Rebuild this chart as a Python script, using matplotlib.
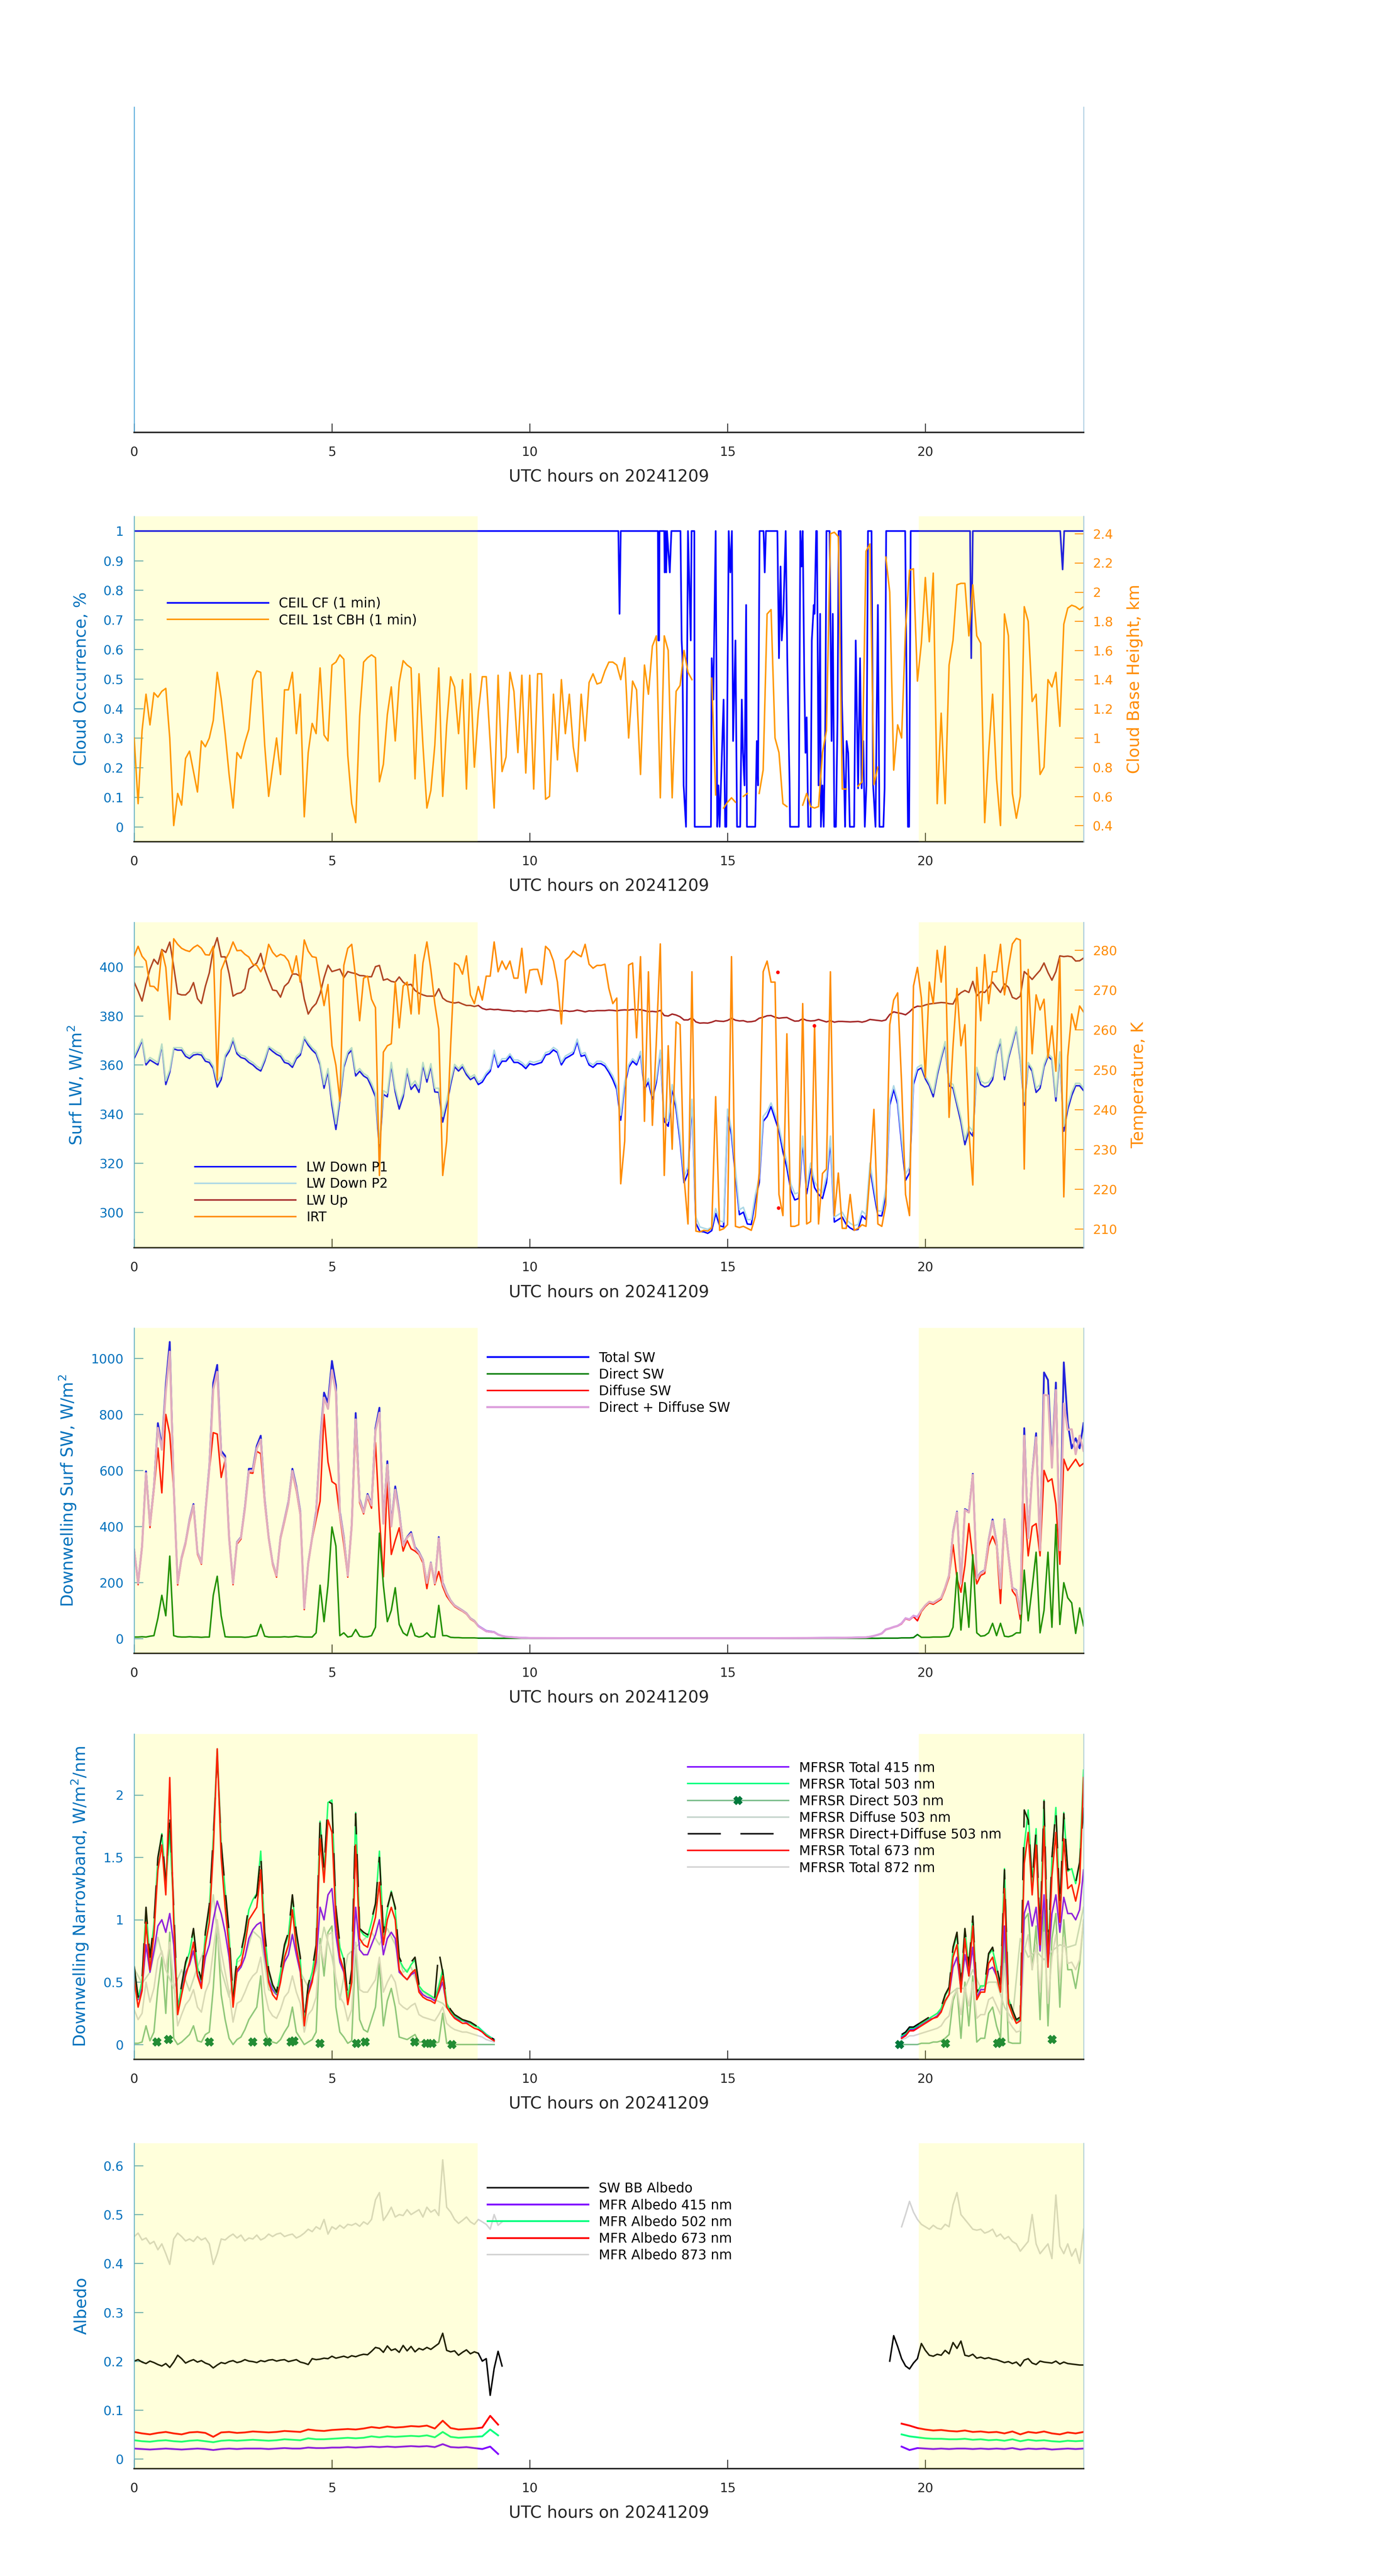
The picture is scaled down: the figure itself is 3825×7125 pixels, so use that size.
import numpy as np
import matplotlib.pyplot as plt
from matplotlib.lines import Line2D
from matplotlib.ticker import FuncFormatter

nan = np.nan

date_str = '20241209'
hour_ticks = [0, 5, 10, 15, 20]
shade_spans = [(0.0, 8.68), (19.83, 24.0)]

# ---------------- ceilometer (panel 2) ----------------
# cloud fraction as (hour, value) vertices
cf_pts = [(0, 1), (12.24, 1), (12.27, 0.72), (12.30, 1), (13.24, 1), (13.25, 0.63), (13.27, 0.63), (13.28, 1),
          (13.40, 1), (13.41, 0.86), (13.43, 1), (13.45, 0.86), (13.47, 1), (13.54, 0.86), (13.58, 1), (13.81, 1),
          (13.84, 0.63), (13.86, 0.57), (13.89, 0.14), (13.95, 0), (14.00, 1), (14.07, 0.63), (14.09, 1), (14.16, 1),
          (14.17, 0), (14.58, 0), (14.60, 0.57), (14.64, 0.43), (14.70, 1), (14.74, 0), (14.77, 0.14), (14.80, 0),
          (14.90, 0.43), (14.94, 0), (14.97, 0), (15.03, 1), (15.07, 0.86), (15.11, 1), (15.14, 0.29), (15.20, 0.63),
          (15.24, 0), (15.32, 0), (15.36, 0.43), (15.39, 0.25), (15.43, 0.14), (15.47, 0.75), (15.49, 0), (15.70, 0),
          (15.74, 0.29), (15.77, 0.14), (15.81, 1), (15.91, 1), (15.94, 0.86), (15.97, 1), (16.26, 1), (16.30, 0.57),
          (16.34, 0.88), (16.37, 0.63), (16.41, 0.72), (16.47, 1), (16.51, 0.57), (16.57, 0.13), (16.58, 0), (16.80, 0),
          (16.84, 1), (16.87, 0.88), (16.90, 1), (16.94, 0.5), (16.97, 0.25), (17.00, 0.37), (17.04, 0), (17.10, 0),
          (17.13, 0.63), (17.18, 0.75), (17.20, 0.72), (17.24, 1), (17.26, 1), (17.30, 0.14), (17.34, 0.72), (17.36, 0),
          (17.40, 0.14), (17.43, 0), (17.47, 0.33), (17.50, 1), (17.58, 1), (17.63, 0.29), (17.66, 0.72), (17.70, 0),
          (17.74, 0), (17.78, 0.37), (17.81, 1), (17.86, 1), (17.89, 0.43), (17.95, 0.14), (17.97, 0), (18.01, 0.29),
          (18.05, 0.25), (18.09, 0), (18.20, 0), (18.24, 0.63), (18.30, 0.13), (18.35, 0.57), (18.39, 0.13), (18.43, 0.29),
          (18.47, 0), (18.51, 0.14), (18.55, 1), (18.64, 1), (18.68, 0.14), (18.74, 0), (18.80, 0.75), (18.84, 0),
          (18.94, 0), (18.97, 0.13), (19.01, 1), (19.49, 1), (19.56, 0), (19.59, 0), (19.63, 1), (21.13, 1),
          (21.16, 0.57), (21.20, 1), (23.41, 1), (23.47, 0.87), (23.51, 1), (24.0, 1)]

# first cloud base height, km, every 0.1 h
cbh_km = [1.0, 0.55, 1.05, 1.30, 1.09, 1.31, 1.28, 1.32, 1.34, 1.0,
          0.40, 0.62, 0.54, 0.86, 0.91, 0.77, 0.63, 0.98, 0.94, 1.0,
          1.12, 1.45, 1.27, 1.03, 0.75, 0.52, 0.90, 0.86, 0.97, 1.06,
          1.40, 1.46, 1.45, 0.95, 0.60, 0.80, 1.0, 0.75, 1.33, 1.33,
          1.45, 1.03, 1.30, 0.46, 0.90, 1.10, 1.03, 1.48, 1.02, 0.98,
          1.50, 1.52, 1.57, 1.54, 0.88, 0.55, 0.42, 1.15, 1.52, 1.55,
          1.57, 1.55, 0.70, 0.82, 1.16, 1.35, 0.98, 1.38, 1.53, 1.50,
          1.48, 0.72, 1.44, 0.95, 0.52, 0.64, 0.95, 1.48, 0.60, 1.09,
          1.42, 1.35, 1.03, 1.40, 0.65, 1.44, 0.80, 1.18, 1.42, 1.42,
          0.97, 0.52, 1.43, 0.77, 0.87, 1.45, 1.32, 0.90, 1.43, 0.76,
          1.43, 0.65, 1.44, 1.44, 0.58, 0.60, 1.30, 0.85, 1.40, 1.03,
          1.30, 0.94, 0.77, 1.30, 0.98, 1.38, 1.44, 1.37, 1.38, 1.46,
          1.52, 1.52, 1.50, 1.40, 1.55, 1.0, 1.39, 1.33, 0.75, 1.50,
          1.30, 1.63, 1.70, 0.59, 1.70, 1.60, 0.59, 1.32, 1.36, 1.60,
          1.45, 1.40, nan, nan, nan, nan, 1.41, 0.61, nan, 0.52,
          0.56, 0.59, 0.56, nan, 0.60, 0.62, nan, nan, 0.62, 0.78,
          1.85, 1.88, 1.0, 0.90, 0.55, 0.53, nan, nan, nan, 0.54,
          0.62, 0.53, 0.52, 0.53, 0.90, 1.05, 2.40, 2.41, 2.38, 0.65,
          0.65, nan, nan, 0.67, 0.70, 2.28, 2.33, 0.68, 0.80, nan,
          2.24, 2.0, 0.78, 1.09, 1.0, 1.75, 2.15, 2.16, 1.39, 1.65,
          2.10, 1.66, 2.13, 0.55, 1.17, 0.55, 1.50, 1.67, 2.05, 2.06,
          2.06, 1.70, 2.05, 1.70, 1.65, 0.42, 0.90, 1.30, 0.72, 0.40,
          1.85, 1.70, 0.62, 0.45, 0.60, 1.90, 1.80, 1.25, 1.30, 0.75,
          0.80, 1.40, 1.35, 1.45, 1.08, 1.78, 1.89, 1.91, 1.90, 1.88,
          1.90]

# ---------------- longwave (panel 3), every 0.1 h ----------------
lw_down_p1 = [362.6, 366, 370, 360, 362, 361, 360, 368, 352, 357,
              366.5, 366, 366, 363.5, 362.6, 364, 364.3, 364, 361.5, 361,
              358.5, 351, 354, 363, 365.5, 370, 364.5, 363, 362.5, 361,
              360, 358.5, 357.5, 361.5, 366.9, 365.5, 364.3, 363.5, 361, 360.5,
              359, 362.5, 364, 370.8, 368, 366, 364.5, 360, 350.5, 357.4,
              343.6, 333.7, 345.5, 359, 364.3, 366, 355.5, 357.4, 355.5, 354.5,
              351, 347, 325.5, 348, 347, 360, 349, 342, 347, 357.4,
              350, 352, 348.8, 360, 353, 359.5, 349, 348.8, 336.7, 343.6,
              352, 359.2, 357.5, 359.2, 356, 354, 355, 352, 353, 355.7,
              357.4, 365, 359, 361.5, 361.5, 363.5, 361, 361, 360, 358.5,
              360.5, 360, 360.5, 361, 364, 364.5, 366.1, 365, 360, 362.6,
              363.5, 364.5, 369.5, 363.5, 364, 360, 359, 360.5, 360.5, 359.5,
              357, 354, 350, 337.5, 351.5, 359, 361.5, 360, 364.5, 350,
              353, 346, 353, 365, 337, 335, 350.5, 342, 329, 312,
              316, 344.5, 295.5, 292.2, 292, 291.4, 292.5, 299.5, 294.5, 294,
              340, 331.5, 315, 299, 300, 295.2, 295, 305, 312, 337,
              339, 343, 338, 333.2, 324.6, 318, 309, 305, 305.6, 329,
              307.5, 317.7, 310, 307.3, 305.6, 312, 329, 296, 297, 298,
              295, 293.6, 292.7, 293, 298.5, 297, 318, 308, 298.7, 298.5,
              307.3, 343.6, 350, 344, 328, 313, 316, 352, 357.8, 358.8,
              354.3, 351.5, 347, 355.7, 362.6, 368.5, 351.5, 350.5, 343.6, 336.7,
              327.5, 333, 331, 358, 352, 351, 351.5, 354, 364.3, 369.5,
              354, 362.6, 368.5, 374.7, 362, 343.6, 360, 357.4, 348.8, 350.5,
              359.2, 363.5, 362, 345.3, 364.3, 333, 341.9, 347.5, 351.5, 351.5,
              349.5]

lw_down_p2 = [363.5, 367, 370.5, 361, 363, 362, 361, 368.5, 353.5, 358,
              367, 367, 367, 364.5, 363.5, 365, 365, 365, 362.5, 362,
              359.5, 353, 355.5, 364, 366.5, 371, 365.5, 364, 363.5, 362,
              361, 359.5, 358.5, 362.5, 367.5, 366.5, 365.3, 364.5, 362, 361.5,
              360, 363.5, 365, 371.5, 369, 367, 365.5, 361, 352, 358.5,
              346, 336, 347.5, 360, 365.3, 367, 357, 358.5, 356.5, 355.5,
              352.5, 348.5, 328, 349.5, 348.5, 361, 350.5, 344, 348.5, 358.5,
              351.5, 353.5, 350.5, 361, 354.5, 360.5, 350.5, 350.5, 339, 345.5,
              353.5, 360.2, 358.5, 360.2, 357, 355, 356, 353, 354, 356.7,
              358.4, 366, 360, 362.5, 362.5, 364.5, 362, 362, 361, 359.5,
              361.5, 361, 361.5, 362, 365, 365.5, 367.1, 366, 361, 363.6,
              364.5, 365.5, 370.5, 364.5, 365, 361, 360, 361.5, 361.5, 360.5,
              358, 355.5, 351.5, 339.5, 353, 360, 362.5, 361, 365.5, 351.5,
              354.5, 347.5, 354.5, 366, 339, 337, 352, 344, 331, 314.5,
              318.5, 346, 298, 294, 293.5, 293, 294, 301.5, 296.5, 296,
              342, 333.5, 317.5, 301, 302, 297, 297, 307, 314, 339,
              341, 344.5, 340, 335, 327, 320.5, 311.5, 307.5, 308, 331,
              310, 320, 312.5, 309.5, 308, 314.5, 331, 298, 299, 300,
              297, 295.5, 294.5, 295, 300.5, 299, 320, 310, 300.5, 300.5,
              309.5, 345.5, 351.5, 345.5, 330, 315.5, 318.5, 353.5, 359, 360,
              355.5, 352.5, 348.5, 357, 363.6, 369.5, 353, 352, 345, 338.5,
              329.5, 335, 333, 359, 353.5, 352.5, 353, 355.5, 365.3, 370.5,
              355.5, 363.6, 369.5, 375.5, 363, 345, 361, 358.5, 350.5, 352,
              360.2, 364.5, 363, 347, 365.3, 335, 343.5, 349, 352.5, 352.5,
              350.5]

lw_up = [393.7, 390, 386, 393, 399, 403, 401, 407, 405.8, 410,
         400, 389, 388.5, 388.5, 390, 393.5, 387, 385, 392, 397.5,
         407, 411.8, 404, 404, 397.1, 388, 389, 389.4, 391, 399,
         400.2, 401.5, 405.4, 399, 394.5, 390.5, 390.2, 387.6, 392, 393.5,
         397, 397, 396, 386.8, 380.7, 383.3, 385, 389, 395.5, 400.6,
         398, 398.5, 399, 395.5, 398, 397.5, 397.2, 396.4, 396.3, 395.9,
         395.9, 400, 400.5, 394.5, 395, 394, 393.7, 395.8, 393.7, 392.5,
         392.8, 390.3, 389.2, 388.5, 388, 388, 388, 391, 387.2, 386,
         385.5, 385.2, 385.5, 384.8, 384.2, 384.2, 383.8, 384.2, 383, 382.5,
         382.7, 382.5, 382.6, 382.3, 382.2, 382.1, 381.8, 382.0, 381.9, 381.7,
         382.0, 381.9, 381.8, 382.1, 382.2, 382.5, 382.3, 382.0, 381.9, 382.1,
         381.8, 381.9, 382.3, 382.0, 381.6, 382.0, 381.9, 382.1, 382.1, 382.1,
         382.3, 382.2, 382.0, 382.3, 382.4, 382.3, 382.6, 382.4, 382.5, 382.1,
         381.7, 381.8, 381.6, 382.2, 380.1, 379.9, 380.7, 380.3, 379.6, 378.3,
         378.3, 379.2, 377.5, 377.0, 377.1, 377.0, 377.4, 378.0, 377.8, 377.7,
         378.1, 379.0, 378.2, 377.9, 378.0, 377.5, 377.6, 377.9, 379.0, 379.4,
         380.0, 380.1, 379.4, 379.0, 379.2, 379.3, 378.5, 377.8, 377.9, 378.8,
         378.1, 377.9, 378.0, 378.5, 378.0, 377.5, 378.0, 377.4, 377.7, 377.7,
         377.6, 377.5, 377.6, 377.7, 377.4, 377.8, 378.5, 378.3, 378.1, 377.9,
         378.3, 380.5, 381.6, 381.2, 380.9, 380.4, 381.6, 383.2, 383.9, 383.8,
         384.4, 384.8, 385.0, 385.2, 385.4, 385.3, 384.9, 384.8, 388.0, 389.4,
         390.3, 389.5, 394.0, 388.1, 389.8, 389.5, 391.5, 393.7, 391.5, 389.5,
         393, 391.6, 387.5, 386.8, 388, 398.0, 396.5, 394.8, 396.7, 398.5,
         401.5, 397.6, 394.5, 398, 404.4, 404.1, 404.3, 404.0, 402.3, 402.4,
         403.5]

irt_k = [278.6, 281, 278.5, 277.3, 271, 270.9, 269.8, 280, 275.7, 262.6,
         282.9, 281.5, 280.5, 280, 279.7, 280.7, 281.3, 280.5, 278.9, 278.8,
         281, 247.4, 275, 277.5, 279.4, 282.1, 279.9, 280, 279, 278.3,
         276.5, 276.2, 274.6, 276.5, 281.5, 279.5, 278.4, 279, 278.6, 277.3,
         274.1, 278.6, 272, 282.6, 279.8, 278.4, 278.2, 272, 266.1, 271.4,
         256, 251.1, 242.1, 276.2, 280.5, 281.5, 273, 262.3, 273, 273.5,
         267.7, 265.6, 223.4, 254.4, 256, 256.5, 272, 260.5, 271, 272,
         264, 278.9, 264, 276.8, 282.1, 275.2, 266.6, 260.2, 223.4, 232,
         256, 276.8, 276.2, 274, 278.6, 268.8, 266.6, 270.9, 267.5, 273.5,
         273.5, 282.1, 274.6, 277.3, 275.2, 277.3, 273, 273, 280.5, 269.3,
         275, 275.2, 275.2, 271.4, 281, 280, 277.3, 272, 261.5, 277.5,
         278.4, 279.8, 279, 278.4, 281.5, 276.5, 275.5, 276.2, 276.2, 276.5,
         270.4, 266.6, 268, 221.3, 232, 276.3, 276.8, 258, 278.4, 237,
         274.6, 236, 257, 281.6, 223.4, 256, 230, 262, 261.3, 222.9,
         211.2, 274.6, 209.4, 209.2, 209.6, 209.4, 210.2, 243.2, 209.6, 210,
         211, 278.4, 210.6, 210.3, 210.6, 210.1, 209.6, 213, 224, 274.6,
         277.3, 272, 272, 218.6, 213.3, 259, 210.6, 210.6, 211, 266.6,
         211.2, 211.8, 261.3, 211.2, 223.9, 225, 274.6, 213.3, 224, 210.1,
         210.1, 218.6, 209.6, 210.1, 211, 210.6, 223.9, 240, 211.2, 210.6,
         216, 261.3, 267.5, 269.3, 246.5, 218.6, 213.3, 271, 275.7, 268,
         248, 272, 266.6, 280, 272, 281, 238, 256, 270.4, 256,
         261.3, 234.6, 221, 275.7, 262.3, 278.9, 266.6, 274.6, 274.6, 281.5,
         268.8, 275.7, 281.6, 283, 282.6, 225, 275.2, 254, 268.8, 265,
         267.7, 253, 261, 249.6, 278, 218, 253.3, 264, 260.2, 266,
         264.5]

irt_flag_h = [16.27, 16.29, 17.19]
irt_flag_k = [274.5, 215.2, 261.0]

# ---------------- shortwave (panel 4) ----------------
# 0-9.9 h every 0.1 h, night hourly 10-18 h, 18.5-24 h every 0.1 h
sw_night_h = [10, 11, 12, 13, 14, 15, 16, 17, 18]

sw_total_am = [317, 199, 330, 597, 407, 543, 769, 688, 905, 1059,
               543, 199, 290, 344, 425, 480, 308, 271, 453, 615,
               914, 977, 670, 652, 362, 199, 344, 362, 470, 606,
               606, 688, 724, 498, 362, 271, 226, 362, 425, 489,
               606, 543, 453, 109, 271, 362, 453, 697, 878, 842,
               991, 905, 453, 362, 226, 407, 805, 498, 453, 516,
               480, 751, 824, 416, 633, 407, 543, 453, 335, 362,
               380, 326, 308, 280, 199, 271, 199, 362, 199, 163,
               136, 118, 109, 100, 90, 72, 63, 45, 36, 27,
               25, 23, 14, 9, 6, 5, 4, 3, 2, 2]
sw_total_night = [1.5, 1, 1, 1, 1, 1, 1, 1.5, 2.5]
sw_total_pm = [4, 6, 9, 13, 18, 32, 36, 41, 45, 54,
               72, 68, 81, 77, 100, 118, 131, 127, 136, 145,
               181, 226, 380, 453, 199, 462, 453, 588, 217, 235,
               244, 353, 425, 344, 181, 425, 299, 181, 172, 90,
               751, 362, 588, 733, 317, 950, 923, 633, 914, 317,
               986, 769, 679, 715, 679, 769]

sw_direct_am = [5, 5, 6, 5, 8, 10, 72, 154, 81, 294,
                10, 6, 5, 5, 6, 5, 5, 4, 5, 5,
                154, 222, 81, 6, 5, 5, 5, 5, 4, 5,
                8, 10, 50, 8, 5, 5, 5, 5, 6, 5,
                6, 8, 6, 5, 5, 5, 20, 190, 60, 190,
                398, 330, 10, 20, 5, 8, 32, 8, 5, 6,
                10, 40, 376, 190, 60, 100, 181, 50, 20, 10,
                54, 10, 5, 8, 20, 5, 5, 118, 10, 10,
                4, 3, 3, 2, 2, 2, 2, 1, 1, 1,
                1, 0.5, 0.5, 0.5, 0.5, 0.5, 0.5, 0.5, 0.5, 0.5]
sw_direct_night = [0.5, 0.5, 0.5, 0.5, 0.5, 0.5, 0.5, 0.5, 0.5]
sw_direct_pm = [0.5, 0.5, 0.5, 0.5, 1, 1, 1, 1, 1, 2,
                2, 2, 3, 14, 4, 4, 4, 5, 5, 5,
                6, 8, 40, 235, 30, 199, 40, 299, 20, 8,
                10, 20, 54, 10, 54, 8, 6, 10, 20, 20,
                244, 63, 181, 308, 20, 100, 308, 40, 407, 50,
                199, 145, 127, 18, 109, 45]

sw_diffuse_am = [310, 192, 322, 585, 396, 528, 680, 520, 800, 730,
                 528, 191, 283, 337, 415, 470, 301, 265, 444, 600,
                 735, 730, 575, 637, 354, 192, 337, 355, 460, 592,
                 590, 668, 660, 482, 355, 264, 219, 355, 416, 479,
                 592, 527, 440, 103, 264, 355, 425, 490, 800, 630,
                 560, 550, 435, 335, 219, 395, 750, 485, 445, 505,
                 465, 700, 430, 220, 560, 300, 350, 395, 312, 350,
                 320, 312, 300, 270, 178, 264, 192, 239, 185, 151,
                 131, 114, 105, 97, 87, 69, 60, 43, 34, 25,
                 23, 22, 13, 8.5, 5.5, 4.5, 3.5, 2.5, 1.5, 1.5]
sw_diffuse_night = [1, 0.5, 0.5, 0.5, 0.5, 0.5, 0.5, 1, 2]
sw_diffuse_pm = [3.5, 5.5, 8.5, 12.5, 17, 31, 35, 40, 44, 52,
                 70, 66, 78, 63, 96, 114, 127, 122, 131, 140,
                 175, 218, 335, 215, 165, 260, 410, 285, 195, 225,
                 232, 330, 365, 330, 125, 415, 290, 170, 150, 68,
                 480, 295, 400, 410, 295, 600, 560, 570, 480, 265,
                 640, 600, 620, 640, 615, 625]

sw_dirdif_am = [315, 197, 328, 590, 404, 538, 752, 674, 881, 1024,
                538, 197, 288, 342, 421, 475, 306, 269, 449, 605,
                889, 952, 656, 643, 359, 197, 342, 360, 464, 597,
                598, 678, 710, 490, 360, 269, 224, 360, 422, 484,
                598, 535, 446, 108, 269, 360, 445, 680, 860, 820,
                958, 880, 445, 355, 224, 403, 782, 493, 450, 511,
                475, 740, 806, 410, 620, 400, 531, 445, 332, 360,
                374, 322, 305, 278, 198, 269, 197, 357, 195, 161,
                135, 117, 108, 99, 89, 71, 62, 44, 35, 26,
                24, 22.5, 13.5, 9, 6, 5, 4, 3, 2, 2]
sw_dirdif_night = [1.5, 1, 1, 1, 1, 1, 1, 1.5, 2.5]
sw_dirdif_pm = [4, 6, 9, 13, 18, 32, 36, 41, 45, 54,
                72, 68, 81, 77, 100, 118, 131, 127, 136, 145,
                181, 226, 375, 450, 195, 459, 450, 584, 215, 233,
                242, 350, 419, 340, 179, 423, 296, 180, 170, 88,
                724, 358, 581, 718, 315, 870, 868, 610, 887, 315,
                839, 745, 747, 658, 724, 670]

# ---------------- MFRSR narrowband (panel 5) ----------------
# morning from 0 h, afternoon from 19.4 h, every 0.1 h
mfr_pm_start = 19.4
mfr415_am = [0.55, 0.36, 0.45, 0.80, 0.58, 0.75, 0.95, 1.00, 0.90, 1.05,
             0.80, 0.30, 0.45, 0.58, 0.64, 0.75, 0.56, 0.48, 0.70, 0.80,
             1.00, 1.15, 1.05, 0.90, 0.70, 0.35, 0.58, 0.62, 0.70, 0.85,
             0.92, 0.96, 0.98, 0.72, 0.52, 0.44, 0.40, 0.52, 0.66, 0.72,
             0.88, 0.72, 0.58, 0.20, 0.44, 0.52, 0.66, 1.10, 1.00, 1.20,
             1.25, 0.88, 0.66, 0.58, 0.36, 0.52, 1.10, 0.76, 0.72, 0.72,
             0.80, 0.88, 1.00, 0.72, 0.85, 0.90, 0.85, 0.58, 0.55, 0.52,
             0.56, 0.58, 0.44, 0.40, 0.38, 0.37, 0.35, 0.42, 0.50, 0.31,
             0.26, 0.22, 0.20, 0.19, 0.18, 0.17, 0.15, 0.14, 0.11, 0.08,
             0.06, 0.04]
mfr415_pm = [0.06, 0.08, 0.12, 0.12, 0.14, 0.16, 0.18, 0.20, 0.21, 0.23,
             0.27, 0.35, 0.40, 0.62, 0.70, 0.44, 0.72, 0.55, 0.78, 0.38,
             0.44, 0.44, 0.60, 0.62, 0.55, 0.44, 0.95, 0.35, 0.26, 0.19,
             0.20, 1.05, 1.15, 0.95, 1.10, 0.75, 1.20, 0.62, 1.05, 1.20,
             0.90, 1.18, 1.05, 1.05, 1.00, 1.08, 1.40]

mfr503_am = [0.62, 0.37, 0.51, 1.08, 0.68, 0.96, 1.49, 1.69, 1.29, 1.71,
             1.08, 0.27, 0.47, 0.64, 0.74, 0.92, 0.62, 0.51, 0.88, 1.08,
             1.65, 2.37, 1.61, 1.23, 0.88, 0.35, 0.68, 0.72, 0.88, 1.08,
             1.16, 1.21, 1.55, 0.88, 0.58, 0.47, 0.41, 0.58, 0.78, 0.88,
             1.19, 0.88, 0.68, 0.17, 0.47, 0.58, 0.78, 1.79, 1.39, 1.94,
             1.96, 1.08, 0.78, 0.68, 0.37, 0.58, 1.86, 0.92, 0.88, 0.86,
             0.98, 1.12, 1.55, 0.88, 1.08, 1.23, 1.08, 0.68, 0.62, 0.58,
             0.64, 0.68, 0.47, 0.43, 0.41, 0.39, 0.37, 0.47, 0.60, 0.33,
             0.27, 0.23, 0.21, 0.19, 0.19, 0.17, 0.15, 0.14, 0.11, 0.08,
             0.06, 0.04]
mfr503_pm = [0.07, 0.09, 0.13, 0.13, 0.15, 0.17, 0.19, 0.21, 0.23, 0.25,
             0.29, 0.39, 0.45, 0.76, 0.88, 0.47, 0.92, 0.62, 1.02, 0.41,
             0.47, 0.47, 0.72, 0.76, 0.62, 0.47, 1.41, 0.37, 0.27, 0.19,
             0.21, 1.59, 1.88, 1.29, 1.73, 0.88, 1.96, 0.68, 1.49, 1.90,
             1.08, 1.86, 1.39, 1.41, 1.29, 1.45, 2.20]

mfr503_dir_am = [0.01, 0.01, 0.02, 0.15, 0.03, 0.10, 0.45, 0.70, 0.25, 0.90,
                 0.05, 0.0, 0.02, 0.05, 0.08, 0.15, 0.03, 0.02, 0.08, 0.10,
                 0.45, 0.95, 0.40, 0.20, 0.05, 0.0, 0.04, 0.06, 0.12, 0.20,
                 0.25, 0.30, 0.55, 0.10, 0.03, 0.02, 0.01, 0.04, 0.10, 0.15,
                 0.30, 0.10, 0.05, 0.0, 0.02, 0.04, 0.10, 0.85, 0.55, 0.90,
                 0.95, 0.30, 0.10, 0.06, 0.01, 0.03, 0.80, 0.20, 0.12, 0.10,
                 0.20, 0.30, 0.65, 0.15, 0.35, 0.45, 0.30, 0.06, 0.05, 0.04,
                 0.06, 0.08, 0.02, 0.02, 0.01, 0.01, 0.01, 0.02, 0.25, 0.01,
                 0.0, 0.0, 0.0, 0.0, 0.0, 0.0, 0.0, 0.0, 0.0, 0.0,
                 0.0, 0.0]
mfr503_dir_pm = [0.0, 0.0, 0.0, 0.0, 0.0, 0.01, 0.01, 0.01, 0.02, 0.02,
                 0.03, 0.05, 0.08, 0.35, 0.45, 0.05, 0.50, 0.15, 0.55, 0.02,
                 0.05, 0.05, 0.25, 0.30, 0.15, 0.05, 0.85, 0.02, 0.01, 0.01,
                 0.01, 1.00, 1.05, 0.60, 0.95, 0.20, 1.10, 0.15, 0.85, 1.05,
                 0.30, 1.00, 0.60, 0.60, 0.45, 0.65, 1.00]
mfr503_dir_mark_h = [0.58, 0.87, 1.9, 3.0, 3.37, 3.97, 4.04, 4.7, 5.62, 5.84,
                     7.09, 7.38, 7.53, 8.03, 19.35, 20.51, 21.83, 21.92, 23.21]
mfr503_dir_mark_v = [0.02, 0.04, 0.02, 0.02, 0.02, 0.02, 0.03, 0.01, 0.01, 0.02,
                     0.02, 0.01, 0.01, 0.0, 0.0, 0.01, 0.01, 0.02, 0.04]

# diffuse 503 every 0.2 h
mfr503_dif_am = [0.61, 0.49, 0.58, 0.86, 0.60, 0.45, 0.60, 0.43, 0.62, 0.78,
                 1.20, 0.60, 0.38, 0.66, 0.70, 0.91, 0.85, 0.44, 0.40, 0.68,
                 0.89, 0.58, 0.46, 0.60, 0.94, 0.70, 0.36, 0.72, 0.78, 0.84,
                 0.90, 0.80, 0.93, 0.80, 0.58, 0.62, 0.45, 0.40, 0.36, 0.33,
                 0.26, 0.21, 0.19, 0.15, 0.11, 0.06]
mfr503_dif_pm = [0.07, 0.13, 0.15, 0.19, 0.23, 0.27, 0.40, 0.45, 0.45, 0.60,
                 0.45, 0.50, 0.50, 0.30, 0.20, 0.85, 0.70, 0.75, 0.68, 0.75,
                 0.80, 0.78, 0.80, 1.10]

mfr503_dd_am = [0.63, 0.38, 0.52, 1.10, 0.70, 0.98, 1.50, 1.68, 1.30, 1.87,
                1.10, 0.28, 0.48, 0.66, 0.76, 0.93, 0.63, 0.52, 0.90, 1.12,
                1.66, 2.30, 1.62, 1.25, 0.90, 0.36, 0.70, 0.74, 0.90, 1.12,
                1.14, 1.20, 1.53, 0.90, 0.60, 0.48, 0.42, 0.60, 0.80, 0.90,
                1.20, 0.90, 0.70, 0.18, 0.48, 0.60, 0.80, 1.81, 1.40, 1.95,
                1.93, 1.10, 0.80, 0.70, 0.38, 0.60, 1.85, 0.93, 0.90, 0.88,
                1.00, 1.13, 1.50, 0.90, 1.10, 1.22, 1.10, 0.70, 0.63, 0.60,
                0.66, 0.70, 0.48, 0.44, 0.42, 0.40, 0.38, 0.75, 0.58, 0.34,
                0.28, 0.24, 0.22, 0.20, 0.19, 0.18, 0.16, 0.14, 0.11, 0.08,
                0.06, 0.04]
mfr503_dd_pm = [0.08, 0.10, 0.14, 0.14, 0.16, 0.18, 0.20, 0.22, 0.24, 0.26,
                0.30, 0.40, 0.46, 0.78, 0.90, 0.48, 0.93, 0.63, 1.03, 0.42,
                0.48, 0.48, 0.73, 0.78, 0.63, 0.48, 1.40, 0.38, 0.28, 0.20,
                0.22, 1.88, 1.80, 1.30, 1.72, 0.90, 1.95, 0.70, 1.50, 1.88,
                1.10, 1.85, 1.40, 1.42, 1.30, 1.46, 1.90]

mfr673_am = [0.52, 0.30, 0.43, 0.98, 0.60, 0.88, 1.40, 1.60, 1.20, 2.14,
             0.98, 0.24, 0.40, 0.55, 0.66, 0.82, 0.55, 0.45, 0.80, 0.98,
             1.55, 2.37, 1.50, 1.10, 0.78, 0.30, 0.60, 0.64, 0.80, 1.00,
             1.05, 1.10, 1.40, 0.78, 0.50, 0.40, 0.36, 0.50, 0.70, 0.80,
             1.08, 0.78, 0.60, 0.15, 0.40, 0.50, 0.70, 1.65, 1.30, 1.80,
             1.70, 1.00, 0.70, 0.60, 0.32, 0.50, 1.60, 0.85, 0.80, 0.78,
             0.90, 1.02, 1.30, 0.80, 1.00, 1.10, 1.00, 0.60, 0.55, 0.52,
             0.57, 0.60, 0.42, 0.38, 0.36, 0.35, 0.33, 0.43, 0.55, 0.30,
             0.25, 0.21, 0.19, 0.17, 0.17, 0.15, 0.13, 0.12, 0.10, 0.07,
             0.05, 0.03]
mfr673_pm = [0.05, 0.07, 0.11, 0.11, 0.13, 0.15, 0.17, 0.19, 0.21, 0.22,
             0.26, 0.35, 0.40, 0.70, 0.80, 0.42, 0.85, 0.55, 0.95, 0.36,
             0.42, 0.42, 0.65, 0.70, 0.55, 0.42, 1.25, 0.33, 0.24, 0.17,
             0.19, 1.45, 1.70, 1.20, 1.60, 0.80, 1.75, 0.62, 1.35, 1.70,
             0.98, 1.65, 1.25, 1.28, 1.15, 1.30, 2.14]

mfr872_am = [0.28, 0.20, 0.25, 0.50, 0.34, 0.45, 0.68, 0.75, 0.60, 0.82,
             0.50, 0.15, 0.24, 0.32, 0.36, 0.44, 0.30, 0.26, 0.42, 0.50,
             0.75, 1.00, 0.75, 0.58, 0.42, 0.18, 0.33, 0.35, 0.42, 0.50,
             0.55, 0.58, 0.70, 0.42, 0.28, 0.23, 0.21, 0.28, 0.38, 0.42,
             0.55, 0.42, 0.33, 0.10, 0.24, 0.28, 0.38, 0.80, 0.65, 0.88,
             0.90, 0.50, 0.38, 0.33, 0.19, 0.28, 0.82, 0.44, 0.42, 0.42,
             0.47, 0.52, 0.70, 0.42, 0.50, 0.56, 0.50, 0.33, 0.30, 0.28,
             0.31, 0.33, 0.24, 0.22, 0.21, 0.20, 0.19, 0.24, 0.30, 0.17,
             0.14, 0.12, 0.11, 0.10, 0.10, 0.09, 0.08, 0.07, 0.06, 0.04,
             0.03, 0.02]
mfr872_pm = [0.04, 0.05, 0.07, 0.07, 0.08, 0.09, 0.10, 0.11, 0.12, 0.13,
             0.15, 0.20, 0.23, 0.38, 0.44, 0.24, 0.46, 0.31, 0.50, 0.21,
             0.24, 0.24, 0.36, 0.38, 0.31, 0.24, 0.65, 0.19, 0.14, 0.10,
             0.11, 0.75, 0.88, 0.60, 0.80, 0.42, 0.90, 0.33, 0.70, 0.88,
             0.52, 0.86, 0.65, 0.66, 0.60, 0.68, 1.00]

# ---------------- albedo (panel 6) ----------------
alb_bb_pm_start = 19.1
alb_bb_am = [0.200, 0.203, 0.198, 0.195, 0.200, 0.197, 0.193, 0.190, 0.195, 0.187,
             0.198, 0.212, 0.205, 0.196, 0.200, 0.203, 0.198, 0.201, 0.196, 0.193,
             0.186, 0.192, 0.197, 0.195, 0.199, 0.201, 0.197, 0.199, 0.203, 0.200,
             0.199, 0.197, 0.201, 0.199, 0.202, 0.203, 0.200, 0.202, 0.203, 0.199,
             0.201, 0.203, 0.198, 0.196, 0.193, 0.205, 0.203, 0.204, 0.206, 0.205,
             0.210, 0.206, 0.208, 0.210, 0.207, 0.211, 0.209, 0.212, 0.214, 0.213,
             0.220, 0.228, 0.226, 0.218, 0.231, 0.222, 0.225, 0.218, 0.232, 0.221,
             0.230, 0.219, 0.226, 0.223, 0.228, 0.224, 0.230, 0.236, 0.257, 0.222,
             0.219, 0.221, 0.212, 0.218, 0.223, 0.215, 0.219, 0.216, 0.200, 0.205,
             0.130, 0.185, 0.220, 0.190]
alb_bb_pm = [0.200, 0.252, 0.230, 0.205, 0.190, 0.184, 0.196, 0.205, 0.236, 0.222,
             0.212, 0.210, 0.214, 0.212, 0.222, 0.215, 0.238, 0.226, 0.241, 0.212,
             0.210, 0.214, 0.206, 0.208, 0.205, 0.207, 0.204, 0.203, 0.200, 0.197,
             0.199, 0.195, 0.198, 0.190, 0.202, 0.205, 0.196, 0.193, 0.200, 0.198,
             0.197, 0.196, 0.200, 0.194, 0.198, 0.195, 0.194, 0.193, 0.192, 0.192]

alb_mfr_pm_start = 19.4
# every 0.1 h
alb873_am = [0.455, 0.462, 0.448, 0.452, 0.440, 0.445, 0.428, 0.440, 0.420, 0.398,
             0.450, 0.462, 0.455, 0.446, 0.450, 0.445, 0.455, 0.448, 0.452, 0.440,
             0.398, 0.420, 0.450, 0.448, 0.455, 0.460, 0.452, 0.458, 0.446, 0.452,
             0.450, 0.458, 0.448, 0.452, 0.460, 0.455, 0.460, 0.462, 0.455, 0.458,
             0.460, 0.452, 0.456, 0.462, 0.470, 0.465, 0.475, 0.470, 0.490, 0.460,
             0.475, 0.470, 0.478, 0.472, 0.480, 0.478, 0.482, 0.476, 0.485, 0.480,
             0.490, 0.530, 0.545, 0.488, 0.500, 0.515, 0.495, 0.500, 0.498, 0.510,
             0.500, 0.505, 0.510, 0.495, 0.515, 0.505, 0.510, 0.498, 0.612, 0.515,
             0.505, 0.490, 0.482, 0.488, 0.495, 0.485, 0.480, 0.490, 0.485, 0.480,
             0.470, 0.500, 0.478, 0.485]
alb873_pm = [0.475, 0.500, 0.527, 0.505, 0.490, 0.480, 0.475, 0.470, 0.478, 0.472,
             0.470, 0.480, 0.475, 0.520, 0.545, 0.500, 0.490, 0.480, 0.470, 0.468,
             0.470, 0.462, 0.465, 0.470, 0.455, 0.460, 0.450, 0.455, 0.445, 0.440,
             0.425, 0.435, 0.445, 0.500, 0.440, 0.420, 0.430, 0.440, 0.410, 0.540,
             0.435, 0.420, 0.440, 0.415, 0.430, 0.400, 0.470]
# every 0.2 h
alb673_am = [0.055, 0.052, 0.050, 0.053, 0.055, 0.052, 0.050, 0.054, 0.055, 0.053,
             0.045, 0.054, 0.055, 0.053, 0.054, 0.056, 0.055, 0.054, 0.055, 0.057,
             0.056, 0.055, 0.060, 0.058, 0.057, 0.059, 0.060, 0.061, 0.060, 0.062,
             0.065, 0.063, 0.066, 0.064, 0.065, 0.067, 0.066, 0.068, 0.062, 0.078,
             0.063, 0.060, 0.061, 0.062, 0.064, 0.088, 0.070]
alb673_pm = [0.072, 0.068, 0.063, 0.060, 0.058, 0.059, 0.057, 0.056, 0.058, 0.055,
             0.056, 0.054, 0.055, 0.052, 0.056, 0.050, 0.055, 0.053, 0.056, 0.052,
             0.050, 0.054, 0.052, 0.055]
alb502_am = [0.038, 0.036, 0.035, 0.037, 0.038, 0.036, 0.035, 0.037, 0.038, 0.036,
             0.034, 0.037, 0.038, 0.037, 0.038, 0.039, 0.038, 0.037, 0.038, 0.040,
             0.039, 0.038, 0.042, 0.040, 0.040, 0.041, 0.042, 0.043, 0.042, 0.043,
             0.046, 0.044, 0.046, 0.045, 0.046, 0.047, 0.046, 0.048, 0.044, 0.055,
             0.045, 0.043, 0.044, 0.045, 0.046, 0.060, 0.048]
alb502_pm = [0.050, 0.046, 0.044, 0.042, 0.041, 0.041, 0.040, 0.040, 0.041, 0.039,
             0.040, 0.038, 0.039, 0.037, 0.040, 0.036, 0.039, 0.037, 0.038, 0.036,
             0.035, 0.037, 0.036, 0.037]
alb415_am = [0.021, 0.020, 0.019, 0.020, 0.021, 0.020, 0.019, 0.020, 0.021, 0.020,
             0.018, 0.020, 0.021, 0.020, 0.021, 0.021, 0.021, 0.020, 0.021, 0.022,
             0.021, 0.021, 0.023, 0.022, 0.022, 0.023, 0.023, 0.024, 0.023, 0.024,
             0.025, 0.024, 0.025, 0.024, 0.025, 0.026, 0.025, 0.026, 0.024, 0.030,
             0.024, 0.023, 0.024, 0.022, 0.020, 0.025, 0.010]
alb415_pm = [0.025, 0.018, 0.022, 0.021, 0.020, 0.021, 0.020, 0.021, 0.021, 0.020,
             0.021, 0.020, 0.021, 0.020, 0.022, 0.019, 0.021, 0.020, 0.021, 0.019,
             0.020, 0.021, 0.020, 0.021]


# ---------------- helpers ----------------
def on_grid(vals, t0=0.0, dt=0.1):
    v = np.asarray(vals, dtype=float)
    return t0 + dt * np.arange(v.size), v


def split_day(am, pm, pm_start, dt=0.1):
    t1, v1 = on_grid(am, 0.0, dt)
    t2, v2 = on_grid(pm, pm_start, dt)
    return np.r_[t1, nan, t2], np.r_[v1, nan, v2]


def sw_series(am, night, pm):
    t1, v1 = on_grid(am)
    t3, v3 = on_grid(pm, 18.5)
    return np.r_[t1, sw_night_h, t3], np.r_[v1, night, v3]


BLUE_LAB = '#0072BD'
ORANGE_LAB = '#FF8C00'
LW = 1.0
fmt = FuncFormatter(lambda v, _: f'{v:g}')


def setup(ax, ylab=None, shade=True):
    ax.set_xlim(0, 24)
    ax.set_xticks(hour_ticks)
    ax.spines['top'].set_visible(False)
    ax.spines['bottom'].set_color('#262626')
    ax.spines['bottom'].set_linewidth(1.0)
    ax.spines['left'].set_color('#4DA6D9')
    ax.spines['left'].set_linewidth(0.6)
    ax.spines['right'].set_color('#A8CBE0')
    ax.spines['right'].set_linewidth(0.6)
    ax.tick_params(axis='x', direction='in', length=6, width=0.6, color='#262626',
                   labelcolor='#262626', labelsize=8.5, pad=9)
    ax.tick_params(axis='y', direction='in', length=6, width=0.6, color='#4A9CC4',
                   labelcolor=BLUE_LAB, labelsize=8.5, pad=7)
    ax.yaxis.set_major_formatter(fmt)
    ax.set_xlabel(f'UTC hours on {date_str}', fontsize=11, color='#262626', labelpad=7)
    if ylab:
        ax.set_ylabel(ylab, fontsize=11, color=BLUE_LAB, labelpad=9)
    if shade:
        for a, b in shade_spans:
            ax.axvspan(a, b, color='yellow', alpha=0.14, lw=0, zorder=3)


def twin(ax, ylab):
    ax2 = ax.twinx()
    for s in ('top', 'left', 'bottom'):
        ax2.spines[s].set_visible(False)
    ax2.spines['right'].set_color('#A8CBE0')
    ax2.spines['right'].set_linewidth(0.6)
    ax2.tick_params(axis='y', direction='in', length=6, width=0.6, color=ORANGE_LAB,
                    labelcolor=ORANGE_LAB, labelsize=8.5, pad=6)
    ax2.yaxis.set_major_formatter(fmt)
    ax2.set_ylabel(ylab, fontsize=11, color=ORANGE_LAB, labelpad=9)
    return ax2


def legend(ax, handles, x, y):
    ax.legend(handles=handles, loc='center left', bbox_to_anchor=(x, y), frameon=False,
              fontsize=8.8, handlelength=7.6, handletextpad=0.8, labelspacing=0.25,
              borderpad=0, borderaxespad=0)


fig = plt.figure(figsize=(12.75, 23.75))
L, W, H = 0.0970, 0.6865, 0.1263
bottoms = [0.8321, 0.6733, 0.5156, 0.3582, 0.2006, 0.0417]

# ---- panel 1 (empty) ----
ax = fig.add_axes([L, bottoms[0], W, H])
setup(ax, shade=False)
ax.set_ylim(0, 1)
ax.set_yticks([])

# ---- panel 2: ceilometer ----
ax = fig.add_axes([L, bottoms[1], W, H])
setup(ax, 'Cloud Occurrence, %')
cf_t, cf_v = zip(*cf_pts)
h_cf, = ax.plot(cf_t, cf_v, color='blue', lw=1.1, label='CEIL CF (1 min)')
ax.set_ylim(-0.05, 1.05)
ax.set_yticks(np.arange(0, 1.01, 0.1))
ax2 = twin(ax, 'Cloud Base Height, km')
t, v = on_grid(cbh_km)
h_cbh, = ax2.plot(t, v, color='#FF9900', lw=LW, label='CEIL 1st CBH (1 min)')
ax2.set_ylim(0.29, 2.52)
ax2.set_yticks(np.arange(0.4, 2.41, 0.2))
legend(ax2, [h_cf, h_cbh], 0.035, 0.706)

# ---- panel 3: longwave ----
ax = fig.add_axes([L, bottoms[2], W, H])
setup(ax, 'Surf LW, W/m$^2$')
hs = []
t, v = on_grid(lw_down_p1)
hs += ax.plot(t, v, color='blue', lw=LW, label='LW Down P1')
t, v = on_grid(lw_down_p2)
hs += ax.plot(t, v, color='#ADD8E6', lw=LW, label='LW Down P2')
t, v = on_grid(lw_up)
hs += ax.plot(t, v, color='#A52A2A', lw=LW, label='LW Up')
ax.set_ylim(285.5, 418)
ax.set_yticks(np.arange(300, 401, 20))
ax2 = twin(ax, 'Temperature, K')
t, v = on_grid(irt_k)
hs += ax2.plot(t, v, color=ORANGE_LAB, lw=LW, label='IRT')
ax2.plot(irt_flag_h, irt_flag_k, 'o', color='red', ms=2.4, mec='none')
ax2.set_ylim(205.2, 287)
ax2.set_yticks(np.arange(210, 281, 10))
legend(ax2, hs, 0.064, 0.170)

# ---- panel 4: shortwave ----
ax = fig.add_axes([L, bottoms[3], W, H])
setup(ax, 'Downwelling Surf SW, W/m$^2$')
hs = []
t, v = sw_series(sw_total_am, sw_total_night, sw_total_pm)
hs += ax.plot(t, v, color='blue', lw=1.2, label='Total SW', zorder=2.0)
t, v = sw_series(sw_direct_am, sw_direct_night, sw_direct_pm)
h_dir, = ax.plot(t, v, color='green', lw=LW, label='Direct SW', zorder=2.2)
t, v = sw_series(sw_diffuse_am, sw_diffuse_night, sw_diffuse_pm)
h_dif, = ax.plot(t, v, color='red', lw=LW, label='Diffuse SW', zorder=2.1)
t, v = sw_series(sw_dirdif_am, sw_dirdif_night, sw_dirdif_pm)
h_dd, = ax.plot(t, v, color='#DDA0DD', lw=1.4, label='Direct + Diffuse SW', zorder=2.3)
hs += [h_dir, h_dif, h_dd]
ax.set_ylim(-53, 1109)
ax.set_yticks(np.arange(0, 1001, 200))
legend(ax, hs, 0.372, 0.831)

# ---- panel 5: MFRSR ----
ax = fig.add_axes([L, bottoms[4], W, H])
setup(ax, 'Downwelling Narrowband, W/m$^2$/nm')
dir_col, mark_col = '#7FBF8F', '#007A3D'
t, v = split_day(mfr503_dir_am, mfr503_dir_pm, mfr_pm_start)
ax.plot(t, v, color=dir_col, lw=LW)
ax.plot(mfr503_dir_mark_h, mfr503_dir_mark_v, 'X', color=mark_col, ms=5, mec=mark_col, lw=0)
t, v = split_day(mfr503_dif_am, mfr503_dif_pm, mfr_pm_start, 0.2)
h_mdif, = ax.plot(t, v, color='#C4D4CC', lw=LW, label='MFRSR Diffuse 503 nm')
t, v = split_day(mfr872_am, mfr872_pm, mfr_pm_start)
h_m872, = ax.plot(t, v, color='#D3D3D3', lw=LW, label='MFRSR Total 872 nm')
t, v = split_day(mfr415_am, mfr415_pm, mfr_pm_start)
h_m415, = ax.plot(t, v, color='#7F00FF', lw=LW, label='MFRSR Total 415 nm')
t, v = split_day(mfr503_am, mfr503_pm, mfr_pm_start)
h_m503, = ax.plot(t, v, color='#00FF7F', lw=LW, label='MFRSR Total 503 nm')
t, v = split_day(mfr503_dd_am, mfr503_dd_pm, mfr_pm_start)
h_mdd, = ax.plot(t, v, color='black', lw=1.0, linestyle=(0, (22, 13)),
                 label='MFRSR Direct+Diffuse 503 nm')
t, v = split_day(mfr673_am, mfr673_pm, mfr_pm_start)
h_m673, = ax.plot(t, v, color='red', lw=LW, label='MFRSR Total 673 nm')
h_mdir = Line2D([], [], color=dir_col, lw=LW, marker='X', ms=5, mfc=mark_col, mec=mark_col,
                label='MFRSR Direct 503 nm')
ax.set_ylim(-0.118, 2.49)
ax.set_yticks([0, 0.5, 1, 1.5, 2])
legend(ax, [h_m415, h_m503, h_mdir, h_mdif, h_mdd, h_m673, h_m872], 0.583, 0.742)

# ---- panel 6: albedo ----
ax = fig.add_axes([L, bottoms[5], W, H])
setup(ax, 'Albedo')
t, v = split_day(alb873_am, alb873_pm, alb_mfr_pm_start)
h_a873, = ax.plot(t, v, color='#D3D3D3', lw=LW, label='MFR Albedo 873 nm')
t, v = split_day(alb673_am, alb673_pm, alb_mfr_pm_start, 0.2)
h_a673, = ax.plot(t, v, color='red', lw=1.2, label='MFR Albedo 673 nm')
t, v = split_day(alb502_am, alb502_pm, alb_mfr_pm_start, 0.2)
h_a502, = ax.plot(t, v, color='#00FF7F', lw=1.2, label='MFR Albedo 502 nm')
t, v = split_day(alb415_am, alb415_pm, alb_mfr_pm_start, 0.2)
h_a415, = ax.plot(t, v, color='#7F00FF', lw=1.2, label='MFR Albedo 415 nm')
t, v = split_day(alb_bb_am, alb_bb_pm, alb_bb_pm_start)
h_abb, = ax.plot(t, v, color='black', lw=LW, label='SW BB Albedo')
ax.set_ylim(-0.020, 0.646)
ax.set_yticks(np.arange(0, 0.61, 0.1))
legend(ax, [h_abb, h_a415, h_a502, h_a673, h_a873], 0.372, 0.758)

fig.savefig('out.png', dpi=300, facecolor='white')
